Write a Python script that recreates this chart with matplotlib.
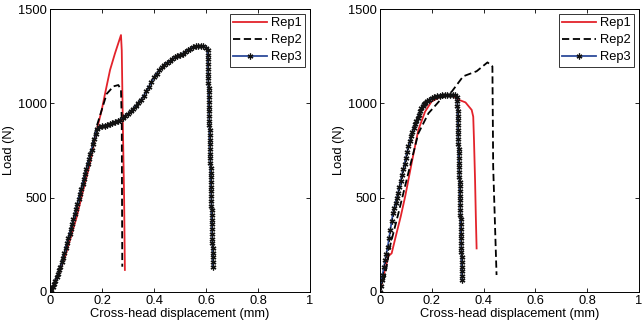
import matplotlib
matplotlib.use("Agg")
import matplotlib.pyplot as plt

plt.rcParams['font.family'] = ['Liberation Sans', 'DejaVu Sans']

# ---- Left panel data ----
L_rep1_x = [0, 0.03, 0.058, 0.08, 0.103, 0.128, 0.154, 0.18, 0.199, 0.212, 0.231, 0.25, 0.273, 0.276, 0.28, 0.285, 0.288]
L_rep1_y = [0, 80, 187, 290, 399, 541, 682, 860, 965, 1053, 1177, 1265, 1362, 1280, 900, 500, 117]

L_rep2_x = [0, 0.03, 0.06, 0.09, 0.12, 0.15, 0.18, 0.199, 0.218, 0.244, 0.263, 0.273, 0.276, 0.277, 0.278]
L_rep2_y = [0, 95, 230, 385, 545, 710, 880, 965, 1050, 1090, 1097, 1071, 900, 500, 134]

L_rep3_x = [0.000, 0.005, 0.010, 0.015, 0.020, 0.025, 0.030, 0.035, 0.040, 0.045, 0.050, 0.055,
            0.060, 0.065, 0.070, 0.075, 0.080, 0.085, 0.090, 0.095, 0.100, 0.105, 0.110, 0.115,
            0.120, 0.125, 0.130, 0.135, 0.140, 0.145, 0.150, 0.155, 0.160, 0.165, 0.170, 0.175,
            0.180, 0.19, 0.20, 0.21, 0.22, 0.23, 0.24, 0.25, 0.26, 0.27, 0.28, 0.29,
            0.30, 0.31, 0.32, 0.33, 0.34, 0.35, 0.36, 0.37, 0.38, 0.39, 0.40, 0.41, 0.42, 0.43, 0.44,
            0.45, 0.46, 0.47, 0.48, 0.49, 0.50, 0.51, 0.52, 0.53, 0.54, 0.55, 0.56, 0.57, 0.58, 0.59,
            0.60, 0.6060, 0.6065, 0.6069, 0.6074, 0.6078, 0.6083, 0.6087, 0.6092, 0.6097, 0.6101,
            0.6106, 0.6110, 0.6115, 0.6119, 0.6124, 0.6129, 0.6133, 0.6138, 0.6142, 0.6147, 0.6151,
            0.6156, 0.6161, 0.6165, 0.6170, 0.6174, 0.6179, 0.6183, 0.6188, 0.6193, 0.6197, 0.6202,
            0.6206, 0.6211, 0.6215, 0.6220, 0.6225, 0.6229, 0.6234, 0.6238, 0.6243, 0.6247, 0.6252,
            0.6257, 0.6261, 0.6266, 0.6270]
L_rep3_y = [0, 12, 25, 42, 60, 77, 95, 115, 135, 157, 180, 206,
            232, 258, 285, 308, 332, 358, 385, 411, 438, 466, 494, 521,
            548, 574, 600, 626, 652, 678, 705, 730, 755, 782, 810, 836,
            862, 874, 878, 882, 886, 890, 895, 900, 907, 914, 922, 932,
            944, 958, 972, 987, 1003, 1020, 1040, 1063, 1088, 1113, 1138, 1158, 1175, 1190, 1203,
            1214, 1224, 1234, 1243, 1251, 1258, 1264, 1272, 1281, 1290, 1298, 1302, 1304, 1304, 1303,
            1295, 1283, 1258, 1233, 1208, 1183, 1158, 1133, 1108, 1083, 1058,
            1033, 1008, 983, 958, 933, 908, 883, 858, 833, 808, 783,
            758, 733, 708, 683, 658, 633, 608, 583, 558, 533, 508,
            483, 458, 433, 408, 383, 358, 333, 308, 283, 258, 233,
            208, 183, 158, 133]

# ---- Right panel data ----
R_rep1_x = [0, 0.013, 0.032, 0.045, 0.06, 0.08, 0.097, 0.122, 0.148, 0.174, 0.199, 0.238, 0.277, 0.302, 0.33, 0.354, 0.36, 0.363, 0.367, 0.37, 0.373]
R_rep1_y = [0, 81, 190, 205, 290, 400, 505, 682, 859, 956, 1009, 1039, 1044, 1020, 1005, 965, 929, 800, 594, 400, 231]

R_rep2_x = [0, 0.02, 0.04, 0.071, 0.109, 0.148, 0.187, 0.238, 0.277, 0.321, 0.373, 0.415, 0.434, 0.437, 0.450]
R_rep2_y = [0, 90, 250, 417, 629, 841, 947, 1026, 1062, 1143, 1170, 1217, 1196, 665, 90]

R_rep3_x = [0, 0.003, 0.006, 0.010, 0.015, 0.020, 0.025, 0.030, 0.035, 0.040, 0.045, 0.050,
            0.055, 0.060, 0.065, 0.070, 0.075, 0.080, 0.085, 0.090, 0.095, 0.100, 0.105, 0.110,
            0.115, 0.120, 0.125, 0.130, 0.135, 0.140, 0.145, 0.150, 0.155, 0.160, 0.165, 0.170,
            0.175, 0.180, 0.19, 0.20, 0.21, 0.22, 0.23, 0.24, 0.25, 0.26, 0.27, 0.28, 0.29,
            0.2980, 0.2985, 0.2990, 0.2995, 0.3000, 0.3005, 0.3010, 0.3015, 0.3020, 0.3025,
            0.3030, 0.3035, 0.3040, 0.3045, 0.3050, 0.3055, 0.3060, 0.3065, 0.3070, 0.3075,
            0.3080, 0.3085, 0.3090, 0.3095, 0.3100, 0.3105, 0.3110, 0.3115, 0.3120, 0.3125,
            0.3130, 0.3135, 0.3140, 0.3145, 0.3150, 0.3155, 0.3160, 0.3165, 0.3170, 0.3175]
R_rep3_y = [0, 30, 64, 92, 130, 168, 204, 240, 285, 330, 374, 417,
            444, 470, 498, 525, 556, 588, 619, 650, 680, 710, 741, 772,
            798, 825, 848, 870, 888, 905, 922, 940, 958, 975, 987, 998,
            1004, 1010, 1020, 1028, 1033, 1038, 1041, 1043, 1044, 1045, 1045, 1044, 1043,
            1035, 1010, 985, 960, 935, 910, 885, 860, 835, 810,
            785, 760, 735, 710, 685, 660, 635, 610, 585, 560,
            535, 510, 485, 460, 435, 410, 385, 360, 335, 310,
            285, 260, 235, 210, 185, 160, 135, 110, 85, 64]

labels = ['Rep1', 'Rep2', 'Rep3']
xticks = [0, 0.2, 0.4, 0.6, 0.8, 1]
xticklabels = ['0', '0.2', '0.4', '0.6', '0.8', '1']
yticks = [0, 500, 1000, 1500]

RED = '#e3232b'
BLUE = '#2c4a9a'
FS = 9.3

fig = plt.figure(figsize=(6.43, 3.26), dpi=100)
ax1 = fig.add_axes([50/643, 34/326, 260/643, 283/326])
ax2 = fig.add_axes([380/643, 34/326, 259/643, 283/326])

for ax, (r1x, r1y, r2x, r2y, r3x, r3y) in [
        (ax1, (L_rep1_x, L_rep1_y, L_rep2_x, L_rep2_y, L_rep3_x, L_rep3_y)),
        (ax2, (R_rep1_x, R_rep1_y, R_rep2_x, R_rep2_y, R_rep3_x, R_rep3_y))]:
    ax.plot(r1x, r1y, color=RED, lw=1.3, label=labels[0])
    ax.plot(r2x, r2y, color='black', lw=1.3, ls=(0, (4, 2)), label=labels[1])
    ax.plot(r3x, r3y, color=BLUE, lw=1.3, marker=(6, 2, 0), ms=4.2, mec='#111111',
            mfc='#111111', mew=0.9, label=labels[2])
    ax.set_xlim(0, 1)
    ax.set_ylim(0, 1500)
    ax.set_xticks(xticks)
    ax.set_xticklabels(xticklabels)
    ax.set_yticks(yticks)
    ax.tick_params(direction='in', top=True, right=True, labelsize=FS, length=3, width=0.6,
                   pad=2)
    for s in ax.spines.values():
        s.set_linewidth(0.7)
    ax.set_xlabel('Cross-head displacement (mm)', fontsize=FS, labelpad=1)
    ax.set_ylabel('Load (N)', fontsize=FS, labelpad=2)
    leg = ax.legend(loc='upper right', fontsize=FS, frameon=True, fancybox=False,
                    edgecolor='black', handlelength=2.6, handletextpad=0.3,
                    borderaxespad=0.35, borderpad=0.3, labelspacing=0.38)
    leg.get_frame().set_linewidth(0.7)

fig.savefig('out.png', dpi=100)
